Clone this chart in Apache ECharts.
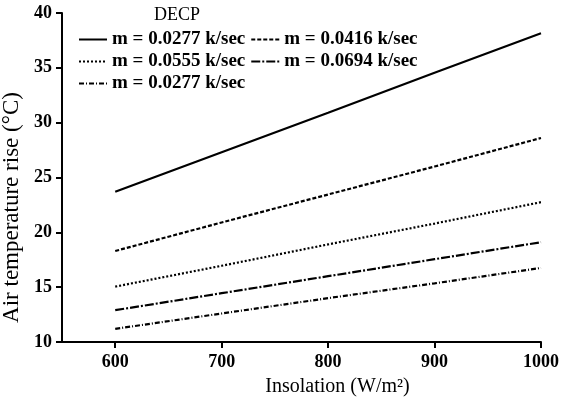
<!DOCTYPE html>
<html>
<head>
<meta charset="utf-8">
<script src="https://cdn.jsdelivr.net/npm/echarts@6/dist/echarts.min.js"></script>
<style>html,body{margin:0;padding:0;background:#fff}#c{width:564px;height:402px}</style>
</head>
<body>
<div id="c"></div>
<script>
const insolation = [600, 700, 800, 900, 1000];
const xTicks = [600, 700, 800, 900, 1000];
const seriesNames = ['m = 0.0277 k/sec', 'm = 0.0416 k/sec', 'm = 0.0555 k/sec', 'm = 0.0694 k/sec', 'm = 0.0277 k/sec '];
const s1 = [23.7, 27.3, 30.9, 34.55, 38.15];
const s2 = [18.3, 20.9, 23.45, 26.0, 28.6];
const s3 = [15.05, 16.95, 18.9, 20.8, 22.75];
const s4 = [12.9, 14.45, 16.0, 17.55, 19.1];
const s5 = [11.2, 12.6, 14.0, 15.35, 16.75];
const allSeries = [s1, s2, s3, s4, s5];
const dashes = ['solid', [4, 2], [2, 2], [9, 2, 2, 2], [5, 2, 1, 2]];

const font = 'Liberation Serif';
const chart = echarts.init(document.getElementById('c'));
const legendText = {fontFamily: font, fontSize: 19, fontWeight: 'bold', color: '#000'};
const legendBase = {
  itemWidth: 28, itemHeight: 12, itemGap: 5, textStyle: legendText, padding: 0,
  selectedMode: false, itemStyle: {opacity: 0}, lineStyle: {opacity: 1}
};
chart.setOption({
  animation: false,
  title: {text: 'DECP', left: 154, top: 6, padding: 0, textStyle: {fontFamily: font, fontSize: 18, fontWeight: 'normal', color: '#000'}},
  legend: [
    Object.assign({}, legendBase, {left: 78, top: 30, data: [seriesNames[0], seriesNames[1]]}),
    Object.assign({}, legendBase, {left: 78, top: 52, data: [seriesNames[2], seriesNames[3]]}),
    Object.assign({}, legendBase, {left: 78, top: 74, data: [seriesNames[4]]})
  ],
  grid: {left: 62, right: 23, top: 13, bottom: 60, outerBoundsMode: 'none', containLabel: false},
  xAxis: {
    type: 'value', min: 550, max: 1000, interval: 50,
    name: 'Insolation (W/m²)', nameLocation: 'middle', nameGap: 35,
    nameTextStyle: {fontFamily: font, fontSize: 20, color: '#000', padding: [0, 0, 0, 72]},
    axisLine: {lineStyle: {color: '#000', width: 2}},
    axisTick: {length: 6, lineStyle: {color: '#000', width: 2}, customValues: xTicks},
    axisLabel: {fontFamily: font, fontSize: 18, fontWeight: 'bold', color: '#000', margin: 11, customValues: xTicks,
      formatter: v => String(v)},
    splitLine: {show: false}
  },
  yAxis: {
    type: 'value', min: 10, max: 40, interval: 5,
    name: 'Air temperature rise (°C)', nameLocation: 'middle', nameGap: 30,
    nameTextStyle: {fontFamily: font, fontSize: 23, color: '#000', padding: [0, 60, 0, 0]},
    axisLine: {show: true, lineStyle: {color: '#000', width: 2}},
    axisTick: {show: true, length: 6, lineStyle: {color: '#000', width: 2}},
    axisLabel: {fontFamily: font, fontSize: 18, fontWeight: 'bold', color: '#000', margin: 10, formatter: v => String(v)},
    splitLine: {show: false}
  },
  series: allSeries.map((vals, i) => ({
    name: seriesNames[i],
    type: 'line',
    showSymbol: false,
    symbol: 'none',
    data: insolation.map((x, j) => [x, vals[j]]),
    lineStyle: {color: '#000', width: 2.2, type: dashes[i]},
    itemStyle: {color: '#000'}
  }))
});
</script>
</body>
</html>
